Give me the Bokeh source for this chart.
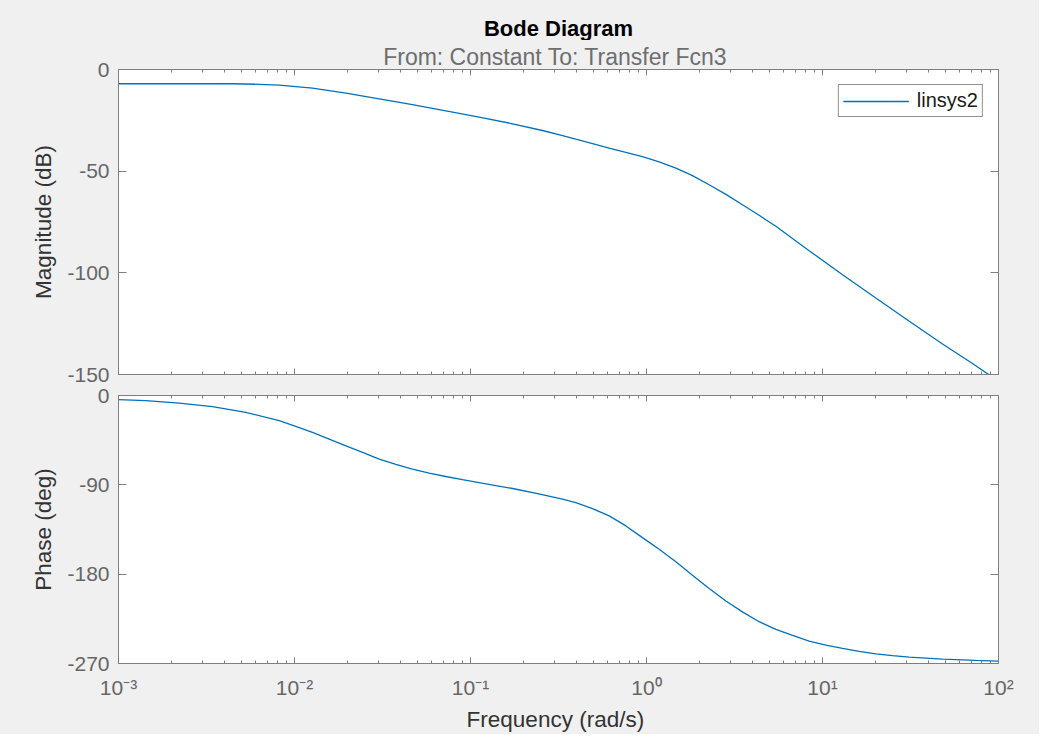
from bokeh.plotting import figure
from bokeh.models import (Range1d, FixedTicker, LogAxis, LinearAxis, Label,
                          CustomJSTickFormatter)
from bokeh.layouts import column
from bokeh.embed import file_html
from bokeh.resources import INLINE

# ---------------- data ----------------
mag_freq = [0.001, 0.002512, 0.00447, 0.00631, 0.008185, 0.01265, 0.01959, 0.03027,
            0.04677, 0.07244, 0.1119, 0.1734, 0.2564, 0.3334, 0.3963, 0.6138,
            0.9484, 1.180, 1.469, 1.824, 2.270, 2.825, 3.508, 4.365, 5.433,
            8.395, 13.00, 20.09, 31.12, 48.08, 70.8, 100.0]
mag_db = [-7.0, -7.0, -7.0, -7.3, -7.7, -9.2, -11.6, -14.4,
          -17.3, -20.3, -23.4, -26.7, -30.0, -32.5, -34.3, -38.7,
          -42.8, -45.4, -48.5, -52.2, -56.7, -61.4, -66.5, -71.7, -77.1,
          -89.1, -100.9, -112.4, -123.8, -135.0, -144.5, -153.3]

phase_freq = [0.001, 0.001429, 0.002213, 0.003420, 0.005284, 0.008185, 0.01016,
              0.01265, 0.01574, 0.01959, 0.02438, 0.03027, 0.03767, 0.04677,
              0.05821, 0.07244, 0.08995, 0.1119, 0.1393, 0.1734, 0.2404, 0.3334,
              0.3963, 0.4932, 0.6138, 0.7638, 0.9484, 1.180, 1.469, 1.824, 2.270,
              2.825, 3.508, 4.365, 5.433, 6.761, 8.395, 10.45, 13.00, 16.14,
              20.09, 25.00, 31.12, 48.08, 74.3, 100.0]
phase_deg = [-4.2, -5.2, -7.6, -11.3, -17.0, -25.4, -31.2,
             -37.2, -43.9, -50.7, -57.4, -64.1, -69.5, -74.2,
             -78.2, -81.6, -84.7, -87.7, -90.7, -93.7, -98.8, -104.5,
             -107.9, -113.9, -121.3, -131.4, -143.2, -154.9, -167.5, -181.0, -194.5,
             -207.0, -218.0, -227.9, -235.6, -241.7, -247.4, -251.5, -254.8, -257.8,
             -260.2, -262.1, -263.6, -265.6, -266.9, -267.6]

x_major = [0.001, 0.01, 0.1, 1.0, 10.0, 100.0]
x_minor = [m * d for d in [0.001, 0.01, 0.1, 1.0, 10.0] for m in range(2, 10)]
mag_ticks = [-150, -100, -50, 0]
phase_ticks = [-270, -180, -90, 0]

series_name = "linsys2"
title_text = "Bode Diagram"
subtitle_text = "From: Constant  To: Transfer Fcn3"
mag_label = "Magnitude (dB)"
phase_label = "Phase (deg)"
freq_label = "Frequency  (rad/s)"

# ---------------- style ----------------
FONT = "Liberation Sans"
BG = "#f0f0f0"
AXC = "#7f7f7f"
TICKLBL = "#666666"
AXLBL = "#333333"
LINEC = "#0072BD"

sup_js = """
const sup = {"-": "\\u207b", "0": "\\u2070", "1": "\\u00b9", "2": "\\u00b2", "3": "\\u00b3",
             "4": "\\u2074", "5": "\\u2075", "6": "\\u2076", "7": "\\u2077", "8": "\\u2078", "9": "\\u2079"};
const e = Math.round(Math.log10(tick));
let s = "";
for (const c of String(e)) { s += sup[c]; }
return "10" + s;
"""


def style_axis(ax, major_in, minor_in, show_labels):
    ax.axis_line_color = AXC
    ax.major_tick_line_color = AXC
    ax.minor_tick_line_color = AXC if minor_in > 0 else None
    ax.major_tick_in = major_in
    ax.major_tick_out = 0
    ax.minor_tick_in = minor_in
    ax.minor_tick_out = 0
    ax.major_label_text_font = FONT
    ax.major_label_text_color = TICKLBL
    ax.axis_label_text_font = FONT
    ax.axis_label_text_color = AXLBL
    ax.axis_label_text_font_style = "normal"
    ax.axis_label_text_font_size = "22.5px"
    if show_labels:
        ax.major_label_text_font_size = "21px"
    else:
        ax.formatter = CustomJSTickFormatter(code="return '';")
        ax.major_label_text_font_size = "1px"
        ax.major_label_standoff = 0


def make_fig(yr, yticks, frame_h, top, bottom, top_label=None):
    p = figure(x_axis_type="log", x_range=Range1d(0.001, 100.0), y_range=yr,
               frame_width=880, frame_height=frame_h,
               min_border_left=118, min_border_right=41,
               min_border_top=top, min_border_bottom=bottom,
               output_backend="svg", toolbar_location=None, tools="",
               background_fill_color="white", border_fill_color=BG,
               outline_line_color=AXC)
    p.grid.visible = False
    xt = FixedTicker(ticks=x_major, minor_ticks=x_minor)
    yt = FixedTicker(ticks=yticks)
    p.xaxis.ticker = xt
    p.yaxis.ticker = yt
    style_axis(p.yaxis[0], 8, 0, True)
    p.yaxis.formatter = CustomJSTickFormatter(code="return String(tick);")
    p.yaxis.major_label_standoff = 9
    p.yaxis.axis_label_standoff = 8
    top_ax = LogAxis(ticker=xt)
    right_ax = LinearAxis(ticker=yt)
    style_axis(top_ax, 6, 3, False)
    style_axis(right_ax, 8, 0, False)
    if top_label is not None:
        top_ax.axis_label = top_label
        top_ax.axis_label_text_font_size = "23px"
        top_ax.axis_label_text_color = "#6e6e6e"
        top_ax.axis_label_standoff = 0
    p.add_layout(top_ax, "above")
    p.add_layout(right_ax, "right")
    return p


# ---------------- title strip ----------------
TITLE_H = 40
pt = figure(frame_width=880, frame_height=TITLE_H,
            x_range=Range1d(0, 1), y_range=Range1d(0, 1),
            x_axis_location=None, y_axis_location=None,
            min_border_left=118, min_border_right=41, min_border_top=0, min_border_bottom=0,
            output_backend="svg", toolbar_location=None, tools="",
            background_fill_color=BG, border_fill_color=BG, outline_line_color=None)
pt.grid.visible = False
pt.add_layout(Label(x=440, y=12.5, x_units="screen", y_units="screen",
                    text=title_text, text_align="center", text_baseline="middle",
                    text_font=FONT, text_font_size="22px", text_font_style="bold",
                    text_color="#000000"))

# ---------------- magnitude ----------------
p1 = make_fig(Range1d(-150, 0), mag_ticks, 305, 27, 10, top_label=subtitle_text)
style_axis(p1.below[0], 6, 3, False)
p1.yaxis[0].axis_label = mag_label
p1.line(mag_freq, mag_db, line_color=LINEC, line_width=1.3, legend_label=series_name)

lg = p1.legend[0]
lg.location = "top_right"
lg.margin = 15
lg.padding = 4
lg.spacing = 0
lg.glyph_width = 66
lg.label_standoff = 8
lg.label_text_font = FONT
lg.label_text_font_size = "20px"
lg.label_text_color = "#1a1a1a"
lg.border_line_color = "#262626"
lg.border_line_width = 1
lg.background_fill_color = "white"
lg.background_fill_alpha = 1.0

# ---------------- phase ----------------
p2 = make_fig(Range1d(-270, 0), phase_ticks, 268, 11, 61)
bx = p2.below[0]
style_axis(bx, 6, 3, True)
bx.formatter = CustomJSTickFormatter(code=sup_js)
bx.major_label_standoff = 12
bx.axis_label = freq_label
bx.axis_label_standoff = 5
p2.yaxis[0].axis_label = phase_label
p2.line(phase_freq, phase_deg, line_color=LINEC, line_width=1.3)

layout = column(pt, p1, p2, spacing=0, styles={"background-color": BG})
open("out.html", "w").write(file_html(layout, INLINE))
